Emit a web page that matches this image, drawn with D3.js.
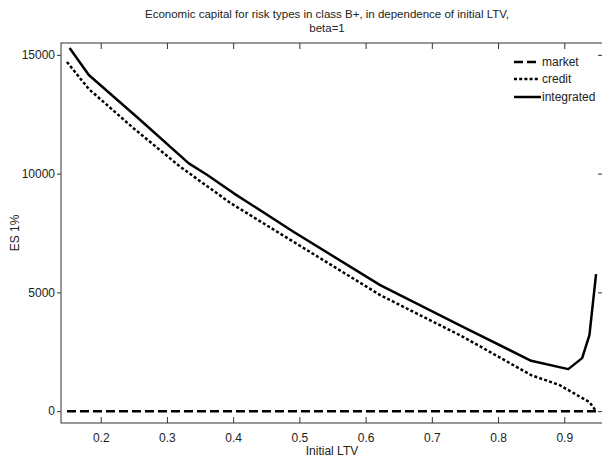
<!DOCTYPE html>
<html>
<head>
<meta charset="utf-8">
<script src="https://cdn.jsdelivr.net/npm/d3@7"></script>
<style>
  html, body { margin: 0; padding: 0; background: #fff; }
  svg { display: block; }
  text { font-family: "Liberation Sans", Arial, Helvetica, sans-serif; fill: #222; }
</style>
</head>
<body>
<svg id="chart" width="602" height="458"></svg>
<script>
// ---- data ----
const ltvIntegrated = [0.153, 0.182, 0.258, 0.333, 0.361, 0.385, 0.401, 0.491, 0.622, 0.747, 0.850, 0.906, 0.927, 0.938, 0.948];
const integrated    = [15290, 14150, 12300, 10433, 9940, 9477, 9170, 7552, 5307, 3551, 2118, 1769, 2232, 3201, 5770];
const ltvCredit     = [0.149, 0.182, 0.250, 0.320, 0.396, 0.491, 0.622, 0.747, 0.850, 0.893, 0.938, 0.948];
const credit        = [14700, 13563, 11900, 10290, 8761, 7131, 4886, 3130, 1516, 1095, 379, 0];
const ltvMarket     = [0.149, 0.948];
const market        = [0, 0];
const xTicks = [0.2, 0.3, 0.4, 0.5, 0.6, 0.7, 0.8, 0.9];
const yTicks = [0, 5000, 10000, 15000];
const seriesNames = ["market", "credit", "integrated"];
const titleLines = ["Economic capital for risk types in class B+, in dependence of initial LTV,", "beta=1"];

// ---- layout ----
const svg = d3.select("#chart");
const L = 61, R = 604, T = 43, B = 423;
const x = d3.scaleLinear().domain([0.14, 0.96]).range([L, R]);
const y = d3.scaleLinear().domain([-500, 15500]).range([B, T]);

// axes box
svg.append("rect").attr("x", L).attr("y", T).attr("width", R - L).attr("height", B - T)
  .attr("fill", "none").attr("stroke", "#333").attr("stroke-width", 1);

// x axis bottom (ticks inside)
const xAxis = svg.append("g").attr("transform", `translate(0,${B})`)
  .call(d3.axisBottom(x).tickValues(xTicks).tickSizeInner(-6).tickSizeOuter(0).tickPadding(10).tickFormat(d3.format(".1f")));
xAxis.select(".domain").remove();
// x axis top (ticks inside)
const xTop = svg.append("g").attr("transform", `translate(0,${T})`)
  .call(d3.axisTop(x).tickValues(xTicks).tickSizeInner(-6).tickSizeOuter(0).tickFormat(""));
xTop.select(".domain").remove();
// y axis left
const yAxis = svg.append("g").attr("transform", `translate(${L},0)`)
  .call(d3.axisLeft(y).tickValues(yTicks).tickSizeInner(4).tickSizeOuter(0).tickPadding(2).tickFormat(d3.format("d")));
yAxis.select(".domain").remove();
// y axis right (ticks inside)
const yRight = svg.append("g").attr("transform", `translate(${R},0)`)
  .call(d3.axisRight(y).tickValues(yTicks).tickSizeInner(-6).tickSizeOuter(0).tickFormat(""));
yRight.select(".domain").remove();

svg.selectAll(".tick line").attr("stroke", "#333");
svg.selectAll(".tick text").attr("font-size", 12).attr("fill", "#222")
  .style("font-family", "'Liberation Sans', Arial, sans-serif");

// ---- lines ----
const line = d3.line().x(d => x(d[0])).y(d => y(d[1]));
const styles = {
  market: "9,4",
  credit: "3,2.2",
  integrated: null
};
const seriesData = {
  market: ltvMarket.map((v, i) => [v, market[i]]),
  credit: ltvCredit.map((v, i) => [v, credit[i]]),
  integrated: ltvIntegrated.map((v, i) => [v, integrated[i]])
};
seriesNames.forEach(n => {
  svg.append("path").datum(seriesData[n]).attr("d", line)
    .attr("fill", "none").attr("stroke", "#000").attr("stroke-width", 2.5)
    .attr("stroke-linejoin", "round")
    .attr("stroke-dasharray", styles[n]);
});

// ---- legend ----
const legY = [62, 79, 97];
seriesNames.forEach((n, i) => {
  svg.append("line").attr("x1", 514).attr("x2", n === "integrated" ? 541 : 538)
    .attr("y1", legY[i]).attr("y2", legY[i])
    .attr("stroke", "#000").attr("stroke-width", 2.5).attr("stroke-dasharray", styles[n]);
  svg.append("text").attr("x", 542).attr("y", legY[i] + 4)
    .attr("font-size", 12).text(n);
});

// ---- titles ----
svg.append("text").attr("x", 327).attr("y", 18).attr("text-anchor", "middle").attr("font-size", 11.5).text(titleLines[0]);
svg.append("text").attr("x", 327).attr("y", 32).attr("text-anchor", "middle").attr("font-size", 11.5).text(titleLines[1]);
svg.append("text").attr("x", 332).attr("y", 455).attr("text-anchor", "middle").attr("font-size", 12).text("Initial LTV");
svg.append("text").attr("transform", "translate(19,233) rotate(-90)").attr("text-anchor", "middle").attr("font-size", 12).text("ES 1%");
</script>
</body>
</html>
